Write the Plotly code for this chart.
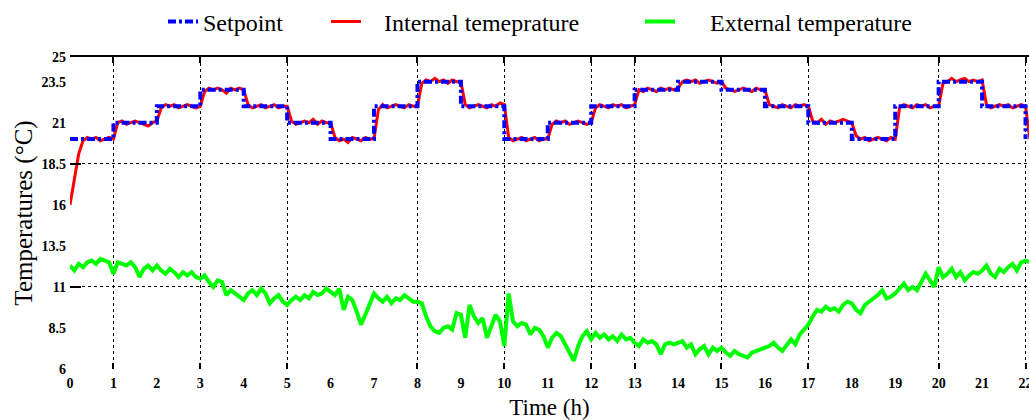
import numpy as np
import plotly.graph_objects as go

# ---------------- data ----------------
hours = list(range(0, 23))
hour_labels = [str(h) for h in hours]
grid_hours = [1, 3, 5, 8, 10, 12, 13, 15, 17, 20, 22]

setpoint = [20, 21, 22, 23, 22, 21, 20, 22, 23.5, 22, 20, 21,
            22, 23, 23.5, 23, 22, 21, 20, 22, 23.5, 22, 20]

time = np.round(np.arange(0, 22.15, 0.1), 1)  # 0.0 ... 22.1 h

internal = [
    16.0, 17.6, 19.1, 19.9, 20.1, 20.0, 20.1, 19.9, 20.0, 20.1,
    20.0, 21.0, 21.1, 20.9, 21.0, 21.1, 21.0, 20.9, 20.8, 21.0,
    21.1, 21.9, 22.1, 22.0, 22.1, 21.9, 22.0, 22.1, 22.0, 21.9,
    22.0, 22.9, 23.1, 23.0, 23.1, 23.0, 22.8, 23.1, 23.0, 23.1,
    23.0, 22.1, 21.9, 22.0, 22.1, 21.9, 22.0, 22.1, 21.9, 22.0,
    22.0, 21.1, 20.9, 21.0, 21.1, 21.0, 21.2, 20.9, 21.1, 21.0,
    21.0, 20.1, 19.9, 20.0, 19.8, 20.1, 20.0, 19.9, 20.1, 20.0,
    20.0, 21.8, 22.1, 21.9, 22.0, 22.1, 22.0, 21.9, 22.1, 22.0,
    22.0, 23.4, 23.6, 23.5, 23.7, 23.5, 23.6, 23.4, 23.6, 23.5,
    23.5, 22.1, 21.9, 22.0, 22.1, 22.0, 21.9, 22.1, 22.0, 22.2,
    22.1, 20.1, 19.9, 20.0, 20.1, 19.9, 20.0, 20.1, 19.9, 20.0,
    20.0, 20.9, 21.1, 21.0, 21.1, 20.9, 21.0, 21.1, 21.0, 20.9,
    21.0, 21.9, 22.1, 22.0, 21.9, 22.1, 22.0, 22.1, 21.9, 22.0,
    22.1, 23.0, 22.9, 23.1, 23.0, 22.9, 23.1, 23.0, 23.1, 23.0,
    23.1, 23.5, 23.6, 23.5, 23.6, 23.4, 23.5, 23.6, 23.5, 23.4,
    23.5, 23.1, 23.0, 22.9, 23.0, 23.1, 23.0, 22.9, 23.1, 23.0,
    23.0, 22.1, 22.0, 21.9, 22.1, 22.0, 21.9, 22.1, 22.0, 22.1,
    22.0, 21.1, 21.0, 21.2, 20.9, 21.1, 21.0, 21.1, 21.2, 21.1,
    21.0, 20.2, 20.0, 20.1, 19.9, 20.0, 20.1, 20.0, 19.9, 20.1,
    20.0, 21.9, 22.1, 22.0, 21.9, 22.1, 22.0, 22.1, 21.9, 22.0,
    22.0, 23.4, 23.5, 23.7, 23.5, 23.6, 23.7, 23.5, 23.6, 23.5,
    23.6, 22.1, 21.9, 22.0, 22.1, 22.0, 22.1, 21.9, 22.0, 22.1,
    22.0, 20.0,
]

external = [
    12.3, 12.0, 12.4, 12.2, 12.5, 12.6, 12.4, 12.7, 12.6, 12.5,
    11.8, 12.5, 12.4, 12.3, 12.5, 12.2, 11.6, 12.1, 12.3, 12.0,
    12.3, 12.0, 11.8, 12.1, 11.9, 11.6, 11.9, 11.7, 11.9, 11.6,
    11.5, 11.7, 11.3, 11.0, 11.4, 11.3, 10.5, 10.8, 10.6, 10.4,
    10.2, 10.6, 10.8, 10.5, 10.9, 10.6, 10.0, 10.3, 10.5, 10.1,
    9.9, 10.2, 10.4, 10.2, 10.5, 10.3, 10.7, 10.5, 10.6, 10.9,
    10.7, 10.5, 10.9, 9.6, 10.4, 10.2, 9.5, 8.7, 9.3, 10.0,
    10.6, 10.3, 10.1, 10.4, 10.0, 10.3, 10.2, 10.5, 10.3, 10.1,
    10.1, 10.0, 9.2, 8.6, 8.3, 8.2, 8.5, 8.6, 8.4, 9.4,
    9.3, 7.9, 9.9, 9.2, 8.8, 9.1, 7.9, 8.6, 9.3, 8.9,
    7.4, 10.6, 8.9, 8.6, 8.8, 8.7, 8.1, 8.5, 8.4, 8.0,
    7.3, 7.9, 8.2, 8.0, 7.5, 6.9, 6.5, 7.4, 8.0, 8.3,
    7.8, 8.2, 7.9, 8.1, 7.8, 8.0, 7.7, 8.1, 7.8, 7.9,
    7.6, 7.4, 7.8, 7.6, 7.7, 7.5, 6.9, 7.5, 7.6, 7.5,
    7.6, 7.7, 7.3, 7.5, 6.9, 7.2, 7.4, 6.9, 7.3, 7.1,
    7.3, 7.0, 6.8, 7.1, 6.9, 6.8, 6.7, 7.0, 7.1, 7.2,
    7.3, 7.4, 7.6, 7.3, 7.1, 7.5, 7.8, 7.5, 8.1, 8.4,
    8.7, 9.2, 9.6, 9.5, 9.8, 9.6, 9.7, 9.5, 9.9, 10.1,
    10.0, 9.6, 9.4, 9.9, 10.1, 10.3, 10.5, 10.8, 10.3, 10.4,
    10.6, 10.9, 11.2, 10.8, 11.0, 10.8, 11.3, 11.8, 11.4, 11.0,
    12.2, 11.6, 11.8, 12.1, 11.6, 11.9, 11.4, 11.7, 11.9, 11.8,
    12.0, 12.3, 11.8, 11.6, 12.1, 11.9, 12.2, 12.4, 12.0, 12.5,
    12.6, 12.5,
]

y_ticks = [6, 8.5, 11, 13.5, 16, 18.5, 21, 23.5, 25]
y_grid = [11, 18.5, 25]

# ---------------- figure ----------------
SERIF = "Liberation Serif, Times New Roman, serif"
x_range = [0, 22.08]
y_range = [6, 25]

fig = go.Figure()

fig.add_trace(go.Scatter(
    x=time, y=external, mode="lines", name="\u00a0\u00a0\u00a0\u00a0\u00a0External temperature",
    line=dict(color="#00FF00", width=4), legend="legend3"))
fig.add_trace(go.Scatter(
    x=time, y=internal, mode="lines", name="\u00a0\u00a0\u00a0Internal temeprature",
    line=dict(color="#FF0000", width=3), legend="legend2"))
fig.add_trace(go.Scatter(
    x=hours, y=setpoint, mode="lines", name="Setpoint", line_shape="hv",
    line=dict(color="#0000FF", width=4, dash="8px,3px,3px,3px"), legend="legend"))

# invisible helpers so the overlay axes (grid / ticks / frame) are drawn
for xa, ya in (("x2", "y"), ("x3", "y"), ("x", "y2")):
    fig.add_trace(go.Scatter(x=[hours[0]], y=[setpoint[0]], xaxis=xa, yaxis=ya,
                             mode="markers", marker=dict(opacity=0),
                             showlegend=False, hoverinfo="skip"))

tick_font = dict(family=SERIF, size=14, color="black", weight="bold")
leg_font = dict(family=SERIF, size=24, color="black")

def leg(xpx):
    return dict(x=xpx / 1029, y=1 - 22 / 420, xref="container", yref="container",
                xanchor="left", yanchor="middle", orientation="h",
                font=leg_font, bgcolor="rgba(0,0,0,0)", borderwidth=0)

fig.update_layout(
    width=1029, height=420,
    margin=dict(l=70, r=0, t=57, b=51),
    paper_bgcolor="white", plot_bgcolor="white",
    showlegend=True,
    legend=leg(163), legend2=leg(326), legend3=leg(640),
    xaxis=dict(range=x_range, tickmode="array", tickvals=hours, ticktext=hour_labels,
               ticks="", showgrid=False, zeroline=False, showline=False,
               tickfont=tick_font, ticklabelstandoff=4, ticklabeloverflow="allow",
               automargin=False,
               title=dict(text="Time (h)", font=dict(family=SERIF, size=23, color="black"),
                          standoff=8)),
    xaxis2=dict(range=x_range, overlaying="x", anchor="y", side="bottom",
                tickmode="array", tickvals=grid_hours, ticks="inside", ticklen=6,
                tickwidth=2, tickcolor="black", showticklabels=False,
                showgrid=True, gridcolor="black", gridwidth=1.3, griddash="dot",
                zeroline=False, showline=False, automargin=False),
    xaxis3=dict(range=x_range, overlaying="x", anchor="y", side="top",
                tickmode="array", tickvals=grid_hours, ticks="inside", ticklen=6,
                tickwidth=2, tickcolor="black", showticklabels=False,
                showgrid=False, zeroline=False, showline=True, linecolor="black",
                linewidth=1.5, automargin=False),
    yaxis=dict(range=y_range, tickmode="array", tickvals=y_ticks,
               ticktext=[("%g" % v) for v in y_ticks],
               ticks="", showgrid=False, zeroline=False, showline=False,
               tickfont=tick_font, ticklabelstandoff=3, automargin=False,
               title=dict(text="Temperatures (°C)", font=dict(family=SERIF, size=25, color="black"),
                          standoff=1)),
    yaxis2=dict(range=y_range, overlaying="y", anchor="x", side="left",
                tickmode="array", tickvals=y_grid, ticks="inside", ticklen=11,
                tickwidth=2, tickcolor="black", showticklabels=False,
                showgrid=True, gridcolor="black", gridwidth=1.3, griddash="dot",
                zeroline=False, showline=False, automargin=False),
)

fig.write_html("out.html", config={"displayModeBar": False},
               post_script="document.body.style.margin='0';")
